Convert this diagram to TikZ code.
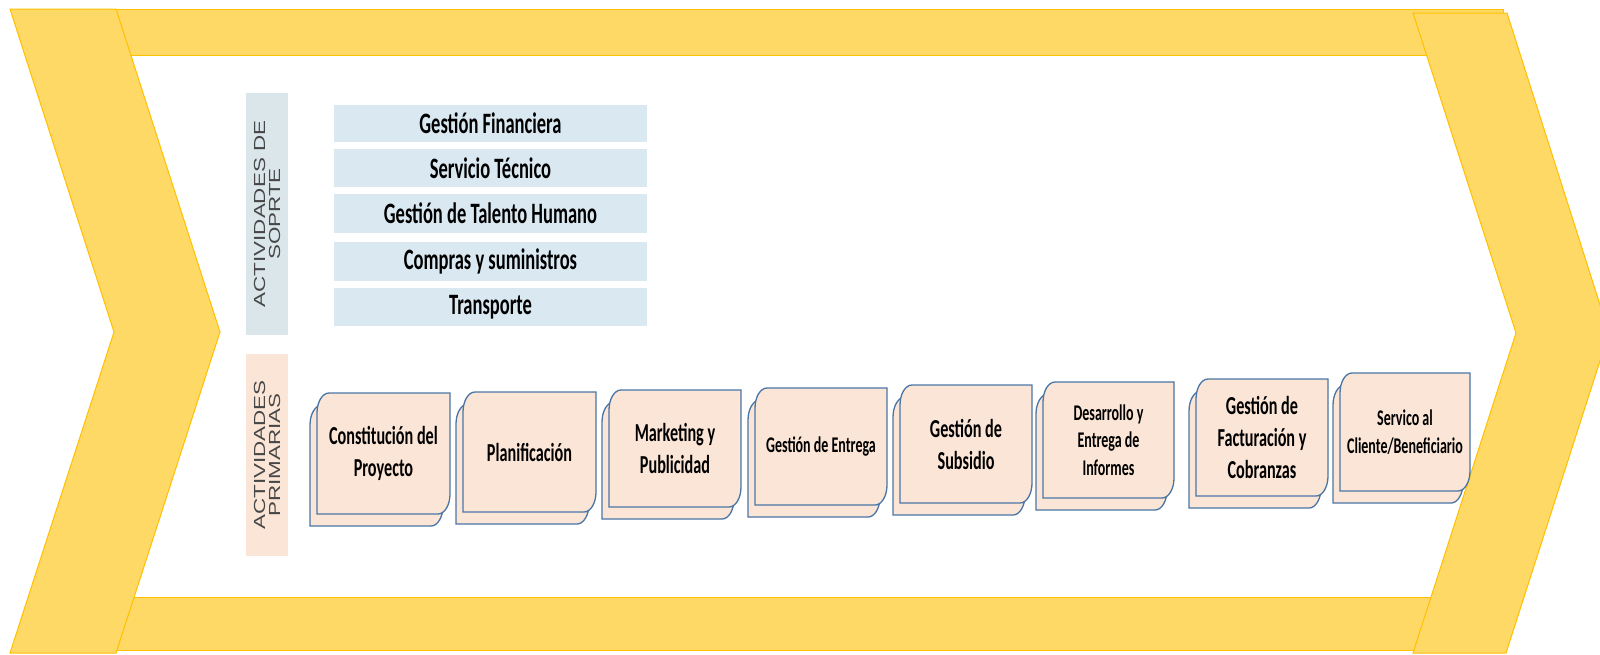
\documentclass[tikz,border=0pt]{standalone}
\usepackage{fontspec}
\newfontfamily\calfont{Carlito}
\newfontfamily\arialfont{Liberation Sans}
\definecolor{gold}{HTML}{FFD966}
\definecolor{goldline}{HTML}{FFC000}
\definecolor{supfill}{HTML}{D9E8F1}
\definecolor{soplab}{HTML}{DAE6EA}
\definecolor{peach}{HTML}{FBE5D6}
\definecolor{boxblue}{HTML}{4A76A6}
\definecolor{labgray}{HTML}{474747}
\tikzset{
  band/.style={fill=gold,draw=goldline,line width=1pt,line join=miter},
  supbox/.style={fill=supfill,inner sep=0pt,minimum width=313pt,yscale=1.6,transform shape,
    font=\calfont\bfseries\fontsize{18.5}{22}\selectfont,text=black},
  labbox/.style={rotate=90,xscale=1.4,transform shape,inner sep=0pt,minimum height=42pt,
    align=center,text=labgray,font=\arialfont\fontsize{16}{15}\selectfont},
  pbox/.style={fill=peach,draw=boxblue,line width=1.3pt},
  ptext/.style={align=center,inner sep=0pt,text=black,yscale=1.6,transform shape,
    font=\calfont\bfseries\fontsize{16.2}{20}\selectfont},
  psmall/.style={font=\calfont\bfseries\fontsize{14}{17.3}\selectfont}
}
\newcommand{\primbox}[7]{%
  \draw[pbox] ({#2-7},{-#5-12}) -- ({#2-7},{-#3-12-20})
    arc[start angle=180,end angle=90,x radius=12pt,y radius=20pt]
    -- ({#4-7},{-#3-12}) -- ({#4-7},{-#5-12+20})
    arc[start angle=0,end angle=-90,x radius=12pt,y radius=20pt] -- cycle;
  \draw[pbox] ({#2},{-#5}) -- ({#2},{-#3-20})
    arc[start angle=180,end angle=90,x radius=12pt,y radius=20pt]
    -- ({#4},{-#3}) -- ({#4},{-#5+20})
    arc[start angle=0,end angle=-90,x radius=12pt,y radius=20pt] -- cycle;
  \node[ptext,#6] (#1) at ({(#2+#4)/2},{-(#3+#5)/2}) {#7};
}
\begin{document}
\begin{tikzpicture}[x=1pt,y=1pt]
\useasboundingbox (0,0) rectangle (1600,-654);
% bands
\draw[band] (116,-9) rectangle (1503,-55);
\draw[band] (116,-597) rectangle (1440,-650);
% chevrons
\draw[band] (10,-9) -- (116,-9) -- (220,-332) -- (116,-653) -- (10,-653) -- (114,-332) -- cycle;
\draw[band] (1413,-13) -- (1507,-13) -- (1609,-333) -- (1506,-653) -- (1413,-653) -- (1516,-333) -- cycle;
% labels
\node[labbox,fill=soplab,minimum width=172.9pt] (lsop) at (267,-214) {ACTIVIDADES DE\\SOPRTE};
\node[labbox,fill=peach,minimum width=144.3pt] (lprim) at (267,-455) {ACTIVIDADES\\PRIMARIAS};
% support activities
\node[supbox,minimum height=23.1pt] (s1) at (490.5,-123.5) {Gestión Financiera};
\node[supbox,minimum height=23.75pt] (s2) at (490.5,-168) {Servicio Técnico};
\node[supbox,minimum height=24.4pt] (s3) at (490.5,-213.5) {Gestión de Talento Humano};
\node[supbox,minimum height=24.4pt] (s4) at (490.5,-261.5) {Compras y suministros};
\node[supbox,minimum height=23.75pt] (s5) at (490.5,-307) {Transporte};
% primary activities
\primbox{p1}{317}{393}{450}{514}{}{Constitución del\\Proyecto}
\primbox{p2}{463}{392}{596}{512}{}{Planificación}
\primbox{p3}{609}{390}{741}{507}{}{Marketing y\\Publicidad}
\primbox{p4}{755}{388}{887}{505}{psmall}{Gestión de Entrega}
\primbox{p5}{900}{385}{1032}{503}{}{Gestión de\\Subsidio}
\primbox{p6}{1043}{382}{1174}{498}{psmall}{Desarrollo y\\Entrega de\\Informes}
\primbox{p7}{1196}{379}{1328}{496}{}{Gestión de\\Facturación y\\Cobranzas}
\primbox{p8}{1340}{373}{1470}{491}{psmall}{Servico al\\Cliente/Beneficiario}
\end{tikzpicture}
\end{document}
